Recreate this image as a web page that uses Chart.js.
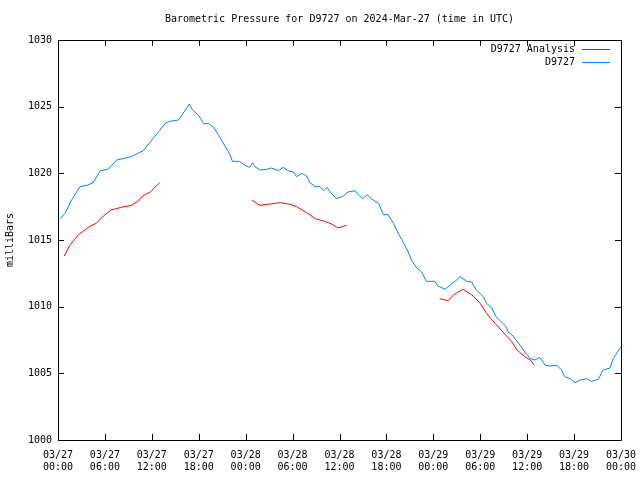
<!DOCTYPE html>
<html>
<head>
<meta charset="utf-8">
<script src="https://cdn.jsdelivr.net/npm/chart.js@4"></script>
<style>
html,body{margin:0;padding:0;background:#fff;}
canvas{display:block;}
</style>
</head>
<body>
<canvas id="c" width="640" height="480"></canvas>
<script>
const titleText = "Barometric Pressure for D9727 on 2024-Mar-27 (time in UTC)";
const yAxisLabel = "milliBars";
const dayLabels = ["03/27", "03/28", "03/29", "03/30"];

const obsHours = [0.3,0.9,1.75,2.8,3.7,4.5,5.4,6.4,7.5,8.3,9.4,10.9,12.0,13.0,13.7,14.3,15.4,16.0,16.8,17.2,17.9,18.7,19.2,19.9,20.5,21.4,22.0,22.3,23.2,23.9,24.5,24.9,25.2,25.8,26.7,27.3,28.2,28.8,29.4,30.1,30.5,31.2,31.8,32.2,32.9,33.5,34.0,34.4,34.8,35.6,36.5,37.1,38.0,38.4,39.0,39.5,40.3,41.0,41.6,42.2,42.9,43.6,44.0,44.8,45.2,45.9,46.5,47.1,48.2,48.6,49.5,50.1,51.0,51.4,52.3,52.9,53.5,54.4,54.8,55.5,56.0,56.9,57.3,57.6,58.2,59.1,59.9,60.4,61.0,61.6,62.3,62.9,63.8,64.4,64.8,65.5,66.1,66.8,67.6,68.2,69.1,69.7,70.6,71.0,72.0];
const obsPressure = [1016.6,1017.0,1018.0,1019.0,1019.1,1019.3,1020.2,1020.3,1021.0,1021.1,1021.25,1021.7,1022.5,1023.2,1023.75,1023.9,1024.0,1024.5,1025.2,1024.75,1024.4,1023.7,1023.75,1023.45,1022.9,1022.0,1021.4,1020.9,1020.9,1020.6,1020.45,1020.8,1020.5,1020.25,1020.3,1020.4,1020.2,1020.45,1020.2,1020.1,1019.75,1020.0,1019.8,1019.3,1019.0,1019.0,1018.7,1018.95,1018.6,1018.1,1018.3,1018.6,1018.7,1018.4,1018.1,1018.4,1018.0,1017.75,1016.9,1016.9,1016.25,1015.4,1015.0,1014.1,1013.5,1012.9,1012.6,1011.9,1011.9,1011.55,1011.3,1011.6,1012.0,1012.25,1011.9,1011.85,1011.25,1010.75,1010.25,1009.9,1009.25,1008.75,1008.5,1008.1,1007.8,1007.1,1006.45,1006.1,1006.0,1006.2,1005.6,1005.55,1005.6,1005.25,1004.75,1004.6,1004.3,1004.5,1004.6,1004.4,1004.55,1005.25,1005.4,1006.1,1007.0];

const anaHours = [0.8,1.5,2.6,3.45,4.1,4.9,5.8,6.8,8.1,9.4,10.2,10.8,11.8,12.4,13.0,18.0,24.8,25.8,27.1,28.4,29.5,30.5,31.8,32.9,34.1,35.0,35.8,36.9,42.0,48.8,49.9,50.6,51.8,52.9,54.0,54.8,55.9,56.9,58.0,58.7,59.7,60.4,60.9];
const anaPressure = [1013.8,1014.6,1015.4,1015.75,1016.05,1016.25,1016.8,1017.25,1017.45,1017.6,1017.9,1018.3,1018.6,1018.95,1019.3,null,1018.0,1017.6,1017.7,1017.8,1017.7,1017.5,1017.05,1016.6,1016.4,1016.2,1015.9,1016.1,null,1010.6,1010.45,1010.9,1011.3,1010.9,1010.25,1009.5,1008.75,1008.1,1007.4,1006.75,1006.25,1006.0,1005.6];

const FONT = "DejaVu Sans Mono";

const frame = {
  id: 'frame',
  afterDraw(chart) {
    const ctx = chart.ctx, a = chart.chartArea;
    const xs = chart.scales.x, ys = chart.scales.y;
    ctx.save();
    ctx.strokeStyle = '#000';
    ctx.lineWidth = 1;
    ctx.beginPath();
    ctx.rect(Math.round(a.left)+0.5, Math.round(a.top)+0.5, Math.round(a.right-a.left), Math.round(a.bottom-a.top));
    ctx.stroke();
    ctx.beginPath();
    xs.ticks.forEach(t => {
      const x = Math.round(xs.getPixelForValue(t.value)) + 0.5;
      ctx.moveTo(x, a.bottom); ctx.lineTo(x, a.bottom - 6);
      ctx.moveTo(x, a.top); ctx.lineTo(x, a.top + 6);
    });
    ys.ticks.forEach(t => {
      const y = Math.round(ys.getPixelForValue(t.value)) + 0.5;
      ctx.moveTo(a.left, y); ctx.lineTo(a.left + 6, y);
      ctx.moveTo(a.right, y); ctx.lineTo(a.right - 6, y);
    });
    ctx.stroke();
    // title
    ctx.fillStyle = '#000';
    ctx.font = '10px "' + FONT + '"';
    ctx.textAlign = 'center';
    ctx.textBaseline = 'middle';
    ctx.fillText(titleText, (a.left + a.right) / 2, 19);
    // legend
    ctx.textAlign = 'right';
    chart.data.datasets.forEach((ds, i) => {
      const y = a.top + 9 + i * 13;
      ctx.fillStyle = '#000';
      ctx.fillText(ds.label, a.right - 46, y);
      ctx.strokeStyle = ds.borderColor;
      ctx.beginPath();
      ctx.moveTo(a.right - 39, Math.round(y) + 0.5);
      ctx.lineTo(a.right - 11, Math.round(y) + 0.5);
      ctx.stroke();
    });
    ctx.restore();
  }
};

new Chart(document.getElementById('c'), {
  type: 'line',
  data: {
    datasets: [
      {
        label: 'D9727 Analysis',
        data: anaHours.map((h, i) => ({x: h, y: anaPressure[i]})),
        borderColor: 'rgb(255,0,0)',
        borderWidth: 1,
        pointRadius: 0,
        spanGaps: false,
        tension: 0
      },
      {
        label: 'D9727',
        data: obsHours.map((h, i) => ({x: h, y: obsPressure[i]})),
        borderColor: 'rgb(0,128,255)',
        borderWidth: 1,
        pointRadius: 0,
        tension: 0
      }
    ]
  },
  options: {
    responsive: false,
    devicePixelRatio: 1,
    animation: false,
    layout: { padding: { top: 40, right: 19, left: 0, bottom: 0 } },
    plugins: { legend: { display: false }, title: { display: false }, tooltip: { enabled: false } },
    scales: {
      x: {
        type: 'linear',
        min: 0, max: 72,
        grid: { display: false, drawTicks: false },
        border: { display: false },
        afterFit(s) { s.height = 40; s.paddingLeft = 0; s.paddingRight = 0; },
        afterBuildTicks(s) {
          const t = [];
          for (let v = 0; v <= 72; v += 6) t.push({ value: v });
          s.ticks = t;
        },
        ticks: {
          autoSkip: false, maxRotation: 0, padding: 9,
          color: '#000',
          font: { family: FONT, size: 10 },
          callback(v) {
            const day = dayLabels[Math.floor(v / 24)];
            const hr = String(v % 24).padStart(2, '0') + ':00';
            return [day, hr];
          }
        }
      },
      y: {
        min: 1000, max: 1030,
        grid: { display: false, drawTicks: false },
        border: { display: false },
        afterFit(s) { s.width = 58; s.paddingTop = 0; s.paddingBottom = 0; },
        title: { display: true, text: yAxisLabel, color: '#000', font: { family: FONT, size: 10 }, padding: { top: 4, bottom: 0 } },
        ticks: {
          stepSize: 5, padding: 6, color: '#000',
          font: { family: FONT, size: 10 },
          callback(v) { return String(v); }
        }
      }
    }
  },
  plugins: [frame]
});
</script>
</body>
</html>
